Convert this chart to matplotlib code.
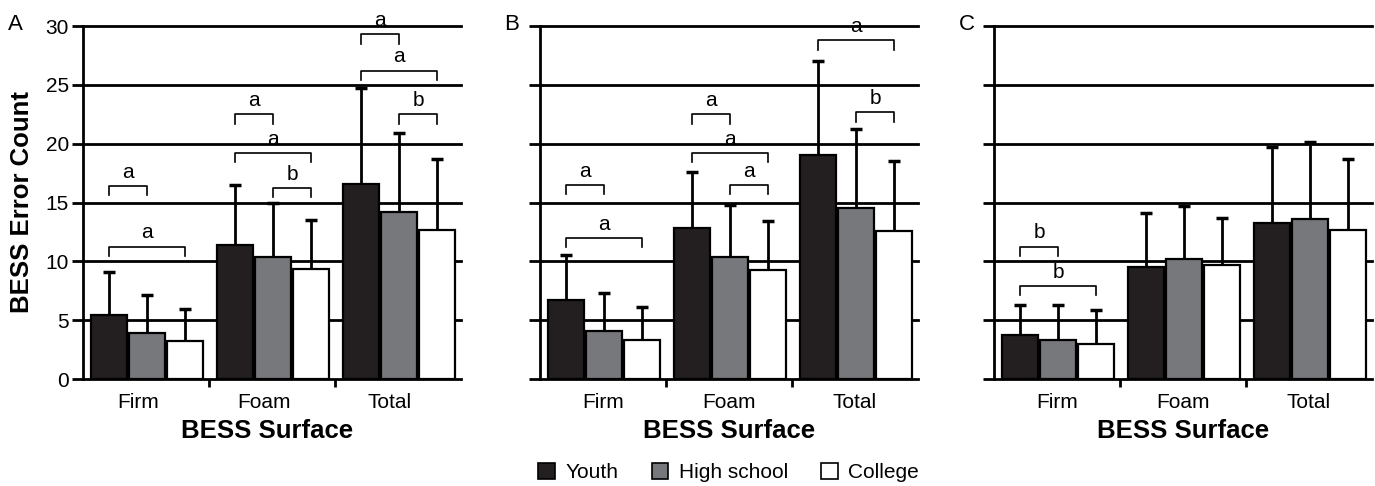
import matplotlib
matplotlib.use("Agg")
import matplotlib.pyplot as plt
from matplotlib.patches import Patch
from matplotlib.transforms import ScaledTranslation
import numpy as np

plt.rcParams['font.family'] = ['Liberation Sans', 'DejaVu Sans']

surfaces = ['Firm', 'Foam', 'Total']
groups = ['Youth', 'High school', 'College']
colors = ['#231f20', '#77787b', '#ffffff']

# means and SD per panel, rows = groups, columns = surfaces
mean_a = [[5.4, 11.4, 16.6], [3.9, 10.4, 14.2], [3.2, 9.35, 12.65]]
sd_a = [[3.7, 5.1, 8.1], [3.2, 4.6, 6.7], [2.75, 4.15, 6.05]]
mean_b = [[6.7, 12.85, 19.0], [4.1, 10.4, 14.5], [3.3, 9.3, 12.6]]
sd_b = [[3.8, 4.75, 8.0], [3.2, 4.4, 6.75], [2.8, 4.1, 5.95]]
mean_c = [[3.75, 9.55, 13.3], [3.3, 10.2, 13.6], [3.0, 9.7, 12.65]]
sd_c = [[2.55, 4.6, 6.45], [3.0, 4.5, 6.5], [2.9, 4.0, 6.05]]

# brackets: (surface index, group i, group j, height, letter)
brackets_a = [(0, 0, 1, 16.4, 'a'), (0, 0, 2, 11.25, 'a'),
              (1, 0, 1, 22.5, 'a'), (1, 0, 2, 19.2, 'a'), (1, 1, 2, 16.25, 'b'),
              (2, 0, 1, 29.3, 'a'), (2, 0, 2, 26.2, 'a'), (2, 1, 2, 22.5, 'b')]
brackets_b = [(0, 0, 1, 16.5, 'a'), (0, 0, 2, 12.0, 'a'),
              (1, 0, 1, 22.5, 'a'), (1, 0, 2, 19.2, 'a'), (1, 1, 2, 16.5, 'a'),
              (2, 0, 2, 28.8, 'a'), (2, 1, 2, 22.65, 'b')]
brackets_c = [(0, 0, 1, 11.25, 'b'), (0, 0, 2, 7.9, 'b')]

panels = [('A', mean_a, sd_a, brackets_a),
          ('B', mean_b, sd_b, brackets_b),
          ('C', mean_c, sd_c, brackets_c)]

W, H = 1375, 486
fig = plt.figure(figsize=(W / 100, H / 100), dpi=100)

lefts = [83, 540, 994]
label_shift = [-8, 0, 0]   # panel A labels sit a bit left in the original
offsets = [-0.295, 0.01, 0.31]
bar_w = 0.285
letter_x = [15, 512, 967]

for k, (name, means, sds, brackets) in enumerate(panels):
    ax = fig.add_axes([lefts[k] / W, (H - 379) / H, 378 / W, 353 / H])
    ax.set_xlim(0, 3)
    ax.set_ylim(0, 30)
    for yv in range(5, 31, 5):
        ax.axhline(yv, color='black', lw=2, zorder=0, clip_on=False)
    x = np.arange(3) + 0.5
    for g in range(3):
        xs = x + offsets[g]
        ax.bar(xs, means[g], width=bar_w, color=colors[g], edgecolor='black',
               linewidth=1.6, zorder=2)
        tops = np.array(means[g]) + np.array(sds[g])
        ax.vlines(xs, means[g], tops, color='black', lw=2, zorder=3)
        ax.plot(xs, tops, ls='none', marker='_', ms=8, mew=2.5, color='black', zorder=3)
    for s, i, j, yb, lab in brackets:
        x1 = x[s] + offsets[i]
        x2 = x[s] + offsets[j]
        ax.plot([x1, x1, x2, x2], [yb - 0.8, yb, yb, yb - 0.8], color='black',
                lw=1.2, zorder=4, clip_on=False)
        ax.text((x1 + x2) / 2, yb + 0.7, lab, ha='center', va='baseline', fontsize=15)

    for sp in ['top', 'right']:
        ax.spines[sp].set_visible(False)
    ax.spines['left'].set_linewidth(2)
    ax.spines['bottom'].set_linewidth(2)
    ax.set_yticks(range(0, 31, 5))
    ax.tick_params(axis='y', length=8, width=2, pad=2, labelsize=15)
    if k > 0:
        ax.set_yticklabels([])
    ax.set_xticks([1, 2])
    ax.set_xticklabels([])
    ax.set_xticks(x, minor=True)
    ax.set_xticklabels(surfaces, minor=True)
    ax.tick_params(axis='x', which='major', length=6, width=2)
    ax.tick_params(axis='x', which='minor', length=0, pad=10, labelsize=15)
    shift = ScaledTranslation(label_shift[k] / 100, 0, fig.dpi_scale_trans)
    for t in ax.get_xticklabels(minor=True):
        t.set_transform(t.get_transform() + shift)
    ax.set_xlabel('BESS Surface', fontsize=18.5, fontweight='bold', labelpad=5)
    ax.xaxis.label.set_x(0.5 + label_shift[k] * 0.6 / 378)

    fig.text(letter_x[k] / W, 1 - 25 / H, name, ha='center', va='center', fontsize=16)

fig.text(22 / W, 1 - 202 / H, 'BESS Error Count', rotation=90, ha='center',
         va='center', fontsize=18.5, fontweight='bold')

handles = [Patch(facecolor=c, edgecolor='black', linewidth=1.2) for c in colors]
fig.legend(handles, groups, loc='lower center', bbox_to_anchor=(0.53, -0.03),
           ncol=3, frameon=False, fontsize=15, handlelength=0.8, handleheight=0.8,
           handletextpad=0.5, columnspacing=1.6)

fig.savefig('out.png', dpi=100)
